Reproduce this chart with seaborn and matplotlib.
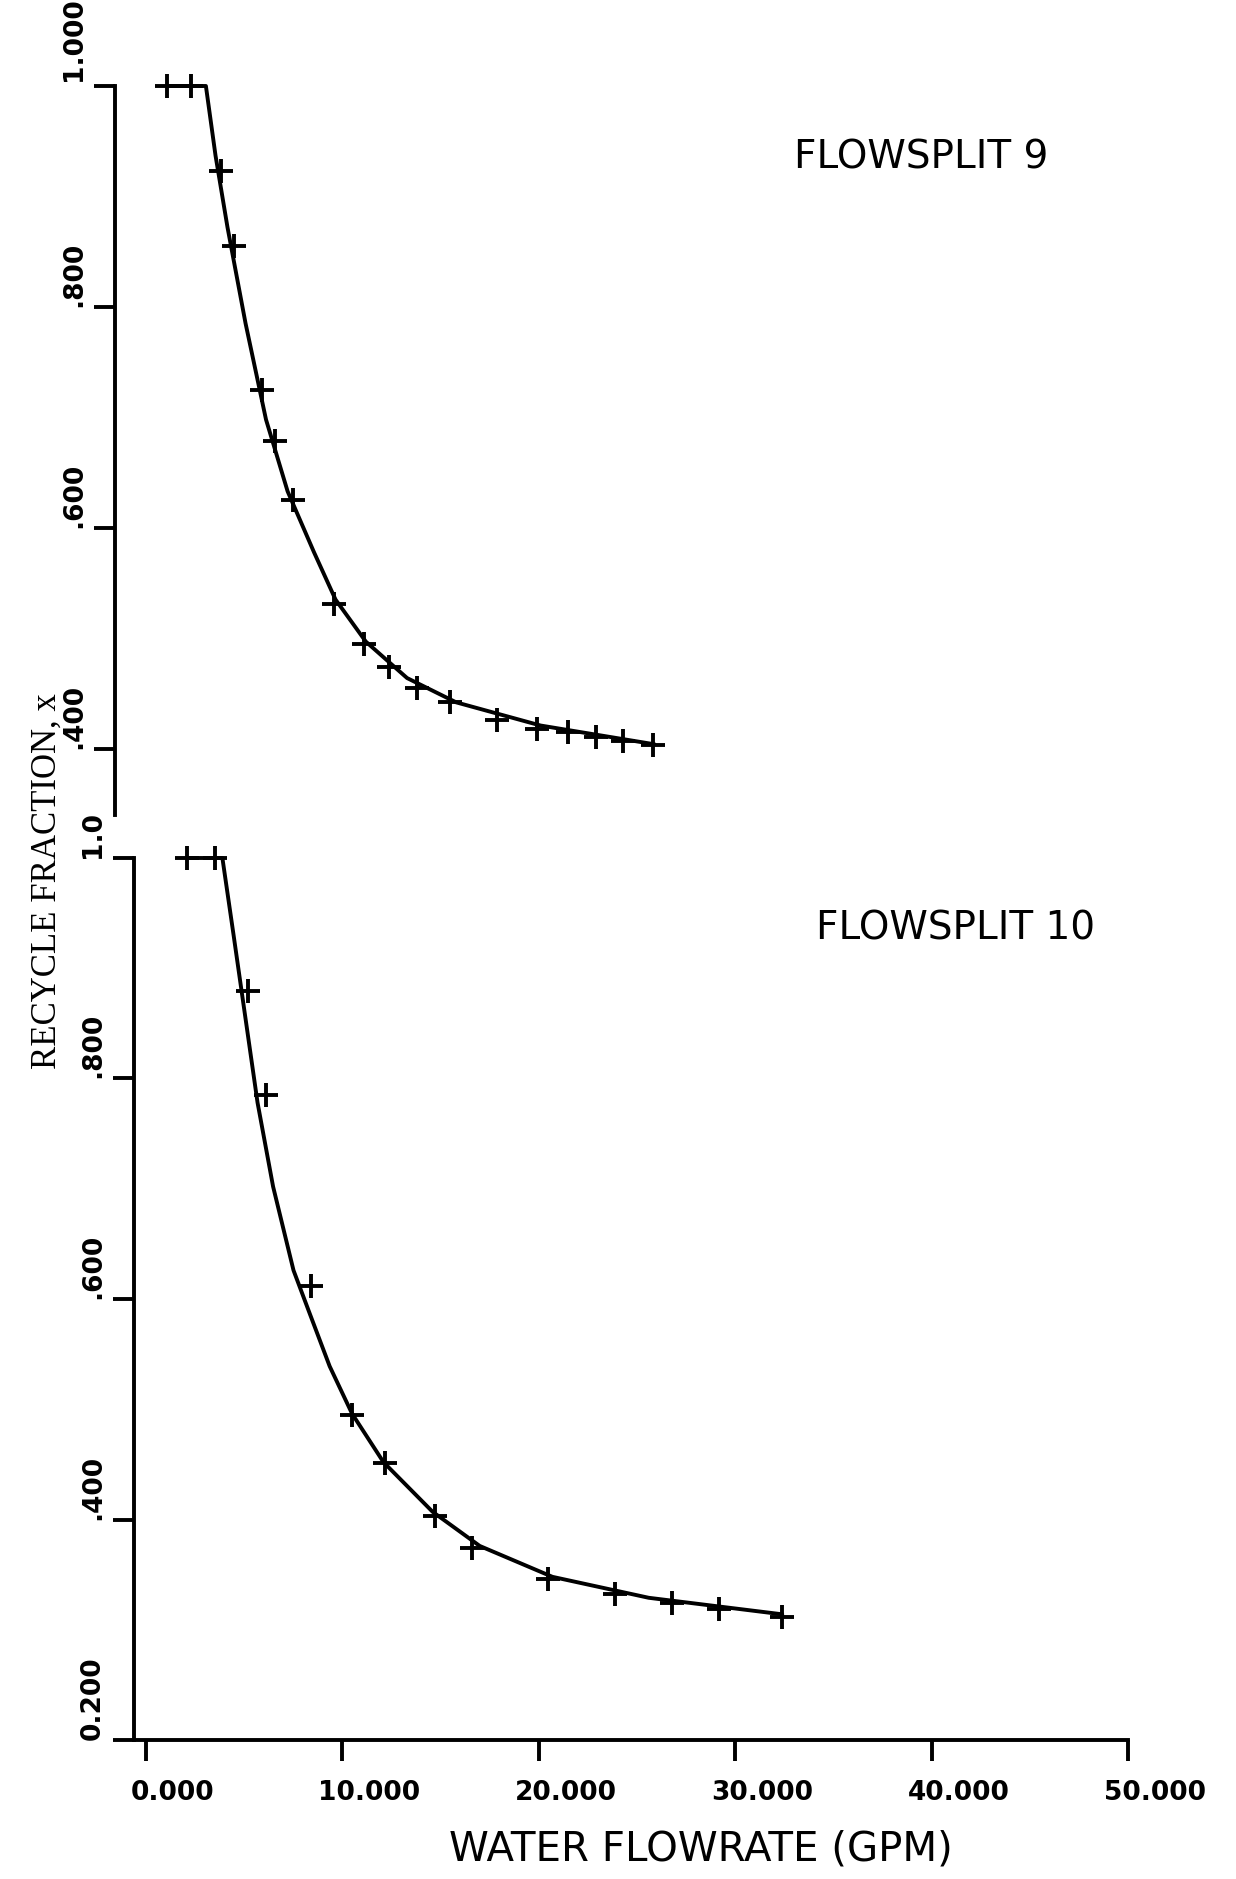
import matplotlib
matplotlib.use("Agg")
import matplotlib.pyplot as plt
import matplotlib.transforms as mtransforms
import seaborn as sns

# ---------------- data ----------------
fs9_x = [1.1, 2.3, 3.85, 4.5, 5.9, 6.6, 7.5, 9.6, 11.1, 12.4, 13.8, 15.5,
         17.9, 19.9, 21.5, 22.9, 24.3, 25.8]
fs9_y = [1.0, 1.0, 0.923, 0.855, 0.725, 0.679, 0.625, 0.531, 0.495, 0.474,
         0.455, 0.442, 0.426, 0.418, 0.415, 0.411, 0.407, 0.403]
fs9_fit_x = [1.1, 3.06, 3.55, 4.16, 5.08, 6.12, 7.22, 8.56, 9.66, 11.2,
             13.3, 15.8, 20.1, 25.9]
fs9_fit_y = [1.0, 1.0, 0.937, 0.872, 0.785, 0.698, 0.633, 0.578, 0.535,
             0.497, 0.464, 0.442, 0.421, 0.404]

fs10_x = [2.1, 3.5, 5.2, 6.1, 8.4, 10.5, 12.2, 14.7, 16.6, 20.5, 23.9,
          26.8, 29.2, 32.4]
fs10_y = [1.0, 1.0, 0.879, 0.785, 0.612, 0.495, 0.451, 0.403, 0.374, 0.346,
          0.332, 0.324, 0.319, 0.312]
fs10_fit_x = [2.1, 3.9, 4.47, 5.08, 5.69, 6.48, 7.52, 8.32, 9.36, 10.5,
              12.1, 14.6, 17.0, 20.7, 25.6, 32.4]
fs10_fit_y = [1.0, 1.0, 0.930, 0.854, 0.778, 0.702, 0.626, 0.588, 0.539,
              0.496, 0.452, 0.407, 0.376, 0.348, 0.329, 0.314]

x_ticks = [0, 10, 20, 30, 40, 50]
x_tick_labels = ["0.000", "10.000", "20.000", "30.000", "40.000", "50.000"]
top_y_ticks = [1.0, 0.8, 0.6, 0.4]
top_y_labels = ["1.000", ".800", ".600", ".400"]
bot_y_ticks = [1.0, 0.8, 0.6, 0.4, 0.2]
bot_y_labels = ["1.0", ".800", ".600", ".400", "0.200"]

panel_titles = ["FLOWSPLIT 9", "FLOWSPLIT 10"]
x_label = "WATER FLOWRATE (GPM)"
y_label = "RECYCLE FRACTION, x"

# ---------------- figure ----------------
sns.set_style("ticks")
plt.rcParams["font.family"] = ["DejaVu Sans"]
plt.rcParams["text.color"] = "black"
plt.rcParams["xtick.labelcolor"] = "black"
plt.rcParams["ytick.labelcolor"] = "black"

W, H = 1236, 1879
fig = plt.figure(figsize=(W / 100, H / 100), dpi=100)

LW = 2.8
x_left_px, x_right_px = 134, 1128
ax_top = fig.add_axes([x_left_px / W, 1 - 815 / H,
                       (x_right_px - x_left_px) / W, (815 - 86) / H])
ax_bot = fig.add_axes([x_left_px / W, 1 - 1740 / H,
                       (x_right_px - x_left_px) / W, (1740 - 858) / H])

def draw(ax, fx, fy, px, py):
    sns.lineplot(x=fx, y=fy, ax=ax, color="black", linewidth=LW,
                 sort=False, estimator=None)
    sns.scatterplot(x=px, y=py, ax=ax, marker="+", s=300, color="black",
                    linewidth=2.8, zorder=3)
    for c in ax.collections:
        c.set_clip_on(False)
    for l in ax.lines:
        l.set_clip_on(False)

draw(ax_top, fs9_fit_x, fs9_fit_y, fs9_x, fs9_y)
draw(ax_bot, fs10_fit_x, fs10_fit_y, fs10_x, fs10_y)

for ax in (ax_top, ax_bot):
    ax.set_xlim(-0.6, 50)
    ax.set_facecolor("white")
    for s in ("top", "right"):
        ax.spines[s].set_visible(False)
    for s in ("left", "bottom"):
        ax.spines[s].set_linewidth(LW)
        ax.spines[s].set_color("black")
    ax.tick_params(axis="both", direction="out", length=15, width=LW,
                   color="black", labelcolor="black", pad=5)
    ax.set_xlabel("")
    ax.set_ylabel("")

ax_top.set_ylim(0.34, 1.0)
ax_bot.set_ylim(0.2, 1.0)

ax_top.spines["bottom"].set_visible(False)
ax_top.spines["left"].set_position(("outward", 14))
ax_top.set_xticks([])

ax_top.set_yticks(top_y_ticks)
ax_top.set_yticklabels(top_y_labels, rotation=90, va="bottom",
                       fontsize=19, fontweight="bold", color="black")
ax_bot.set_yticks(bot_y_ticks)
ax_bot.set_yticklabels(bot_y_labels, rotation=90, va="bottom",
                       fontsize=19, fontweight="bold", color="black")
# the top "1.000" label sits a little above its tick in the reference
up = mtransforms.ScaledTranslation(0, 0.05, fig.dpi_scale_trans)
lab0 = ax_top.get_yticklabels()[0]
lab0.set_transform(lab0.get_transform() + up)

ax_bot.set_xticks(x_ticks)
ax_bot.set_xticklabels(x_tick_labels, fontsize=19, fontweight="bold",
                       color="black")
ax_bot.tick_params(axis="x", pad=14)
shift = mtransforms.ScaledTranslation(0.27, 0, fig.dpi_scale_trans)
for lab in ax_bot.get_xticklabels():
    lab.set_transform(lab.get_transform() + shift)

ax_top.text(33.0, 0.935, panel_titles[0], fontsize=28, va="center",
            ha="left", color="black")
ax_bot.text(34.1, 0.936, panel_titles[1], fontsize=28, va="center",
            ha="left", color="black")

fig.text(701 / W, 1 - 1850 / H, x_label, fontsize=29, ha="center",
         va="center", color="black")
fig.text(47 / W, 1 - 881 / H, y_label, fontsize=25, rotation=90,
         ha="center", va="center", color="black",
         family=["Liberation Serif", "DejaVu Serif"])

fig.savefig("out.png", dpi=100, facecolor="white")
